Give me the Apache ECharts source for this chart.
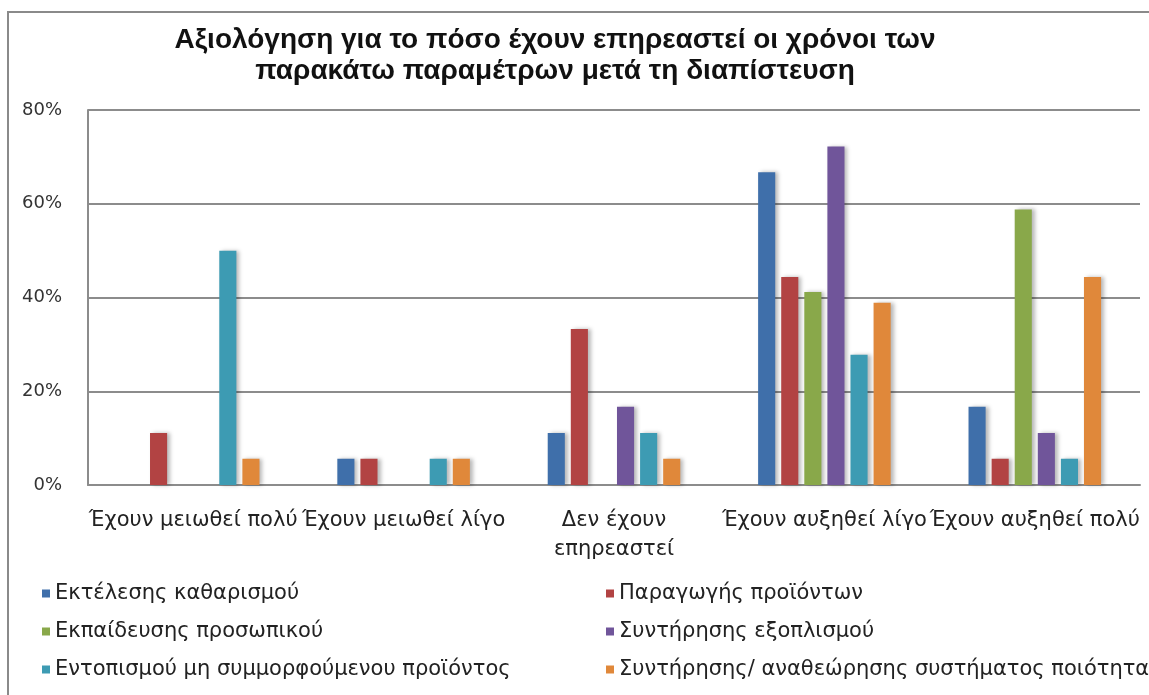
<!DOCTYPE html>
<html>
<head>
<meta charset="utf-8">
<script src="https://cdn.jsdelivr.net/npm/echarts@6/dist/echarts.min.js"></script>
<style>
  html, body { margin: 0; padding: 0; background: #fff; }
  #chart { width: 1149px; height: 695px; }
</style>
</head>
<body>
<div id="chart"></div>
<script>
// Answer categories (x axis)
const categories = [
  'Έχουν μειωθεί πολύ',
  'Έχουν μειωθεί λίγο',
  'Δεν έχουν\nεπηρεαστεί',
  'Έχουν αυξηθεί λίγο',
  'Έχουν αυξηθεί πολύ'
];

// Y axis ticks (percent)
const yTicks = [0, 20, 40, 60, 80];

// Series names
const seriesNames = [
  'Εκτέλεσης καθαρισμού',
  'Παραγωγής προϊόντων',
  'Εκπαίδευσης προσωπικού',
  'Συντήρησης εξοπλισμού',
  'Εντοπισμού μη συμμορφούμενου προϊόντος',
  'Συντήρησης/ αναθεώρησης συστήματος ποιότητας'
];

// Percentages per category
const cleaning    = [0,    5.6, 11.1, 66.7, 16.7];
const production  = [11.1, 5.6, 33.3, 44.4,  5.6];
const training    = [0,    0,    0,   41.2, 58.8];
const equipment   = [0,    0,   16.7, 72.2, 11.1];
const nonconform  = [50,   5.6, 11.1, 27.8,  5.6];
const qualitySys  = [5.6,  5.6,  5.6, 38.9, 44.4];

const seriesValues = [cleaning, production, training, equipment, nonconform, qualitySys];
const colors = ['#3F6FAA', '#B24343', '#89A84A', '#70559A', '#3D9BB3', '#E0883A'];

const chart = echarts.init(document.getElementById('chart'));

const legendText = { fontFamily: 'DejaVu Sans', fontSize: 21, color: '#222' };

chart.setOption({
  animation: false,
  backgroundColor: '#fff',
  color: colors,
  graphic: [
    {
      type: 'rect',
      shape: { x: 8, y: 12, width: 1200, height: 720 },
      style: { fill: 'none', stroke: '#8a8a8a', lineWidth: 2 },
      silent: true
    },
    {
      type: 'text',
      x: 555, y: 25,
      style: {
        text: 'Αξιολόγηση για το πόσο έχουν επηρεαστεί οι χρόνοι των\nπαρακάτω παραμέτρων μετά τη διαπίστευση',
        align: 'center',
        verticalAlign: 'top',
        font: 'bold 28px "Liberation Sans", Arial, sans-serif',
        lineHeight: 31,
        fill: '#111'
      }
    }
  ],
  grid: { left: 88, right: 9, top: 110, bottom: 210, containLabel: false },
  legend: [
    {
      orient: 'vertical', left: 37, top: 578,
      itemWidth: 8, itemHeight: 8, itemGap: 17,
      icon: 'rect',
      textStyle: legendText,
      data: [seriesNames[0], seriesNames[2], seriesNames[4]]
    },
    {
      orient: 'vertical', left: 601, top: 578,
      itemWidth: 8, itemHeight: 8, itemGap: 17,
      icon: 'rect',
      textStyle: legendText,
      data: [seriesNames[1], seriesNames[3], seriesNames[5]]
    }
  ],
  xAxis: {
    type: 'category',
    data: categories,
    axisLine: { lineStyle: { color: '#8c8c8c', width: 2 } },
    axisTick: { show: false },
    axisLabel: {
      interval: 0,
      margin: 21,
      fontFamily: 'DejaVu Sans',
      fontSize: 21,
      lineHeight: 29,
      color: '#222'
    }
  },
  yAxis: {
    type: 'value',
    min: 0, max: 80, interval: 20,
    axisLine: { show: true, lineStyle: { color: '#8c8c8c', width: 2 } },
    axisTick: { show: false },
    splitLine: { lineStyle: { color: '#8c8c8c', width: 2 } },
    axisLabel: {
      formatter: function (v) { return yTicks.indexOf(v) >= 0 ? v + '%' : ''; },
      margin: 26,
      fontFamily: 'DejaVu Sans',
      fontSize: 18,
      color: '#333'
    }
  },
  series: seriesNames.map(function (name, i) {
    return {
      name: name,
      type: 'bar',
      data: seriesValues[i],
      barGap: '35%',
      barCategoryGap: '37%',
      itemStyle: {
        color: colors[i],
        shadowColor: 'rgba(0,0,0,0.28)',
        shadowBlur: 4,
        shadowOffsetX: 3,
        shadowOffsetY: 0
      }
    };
  })
});
</script>
</body>
</html>
